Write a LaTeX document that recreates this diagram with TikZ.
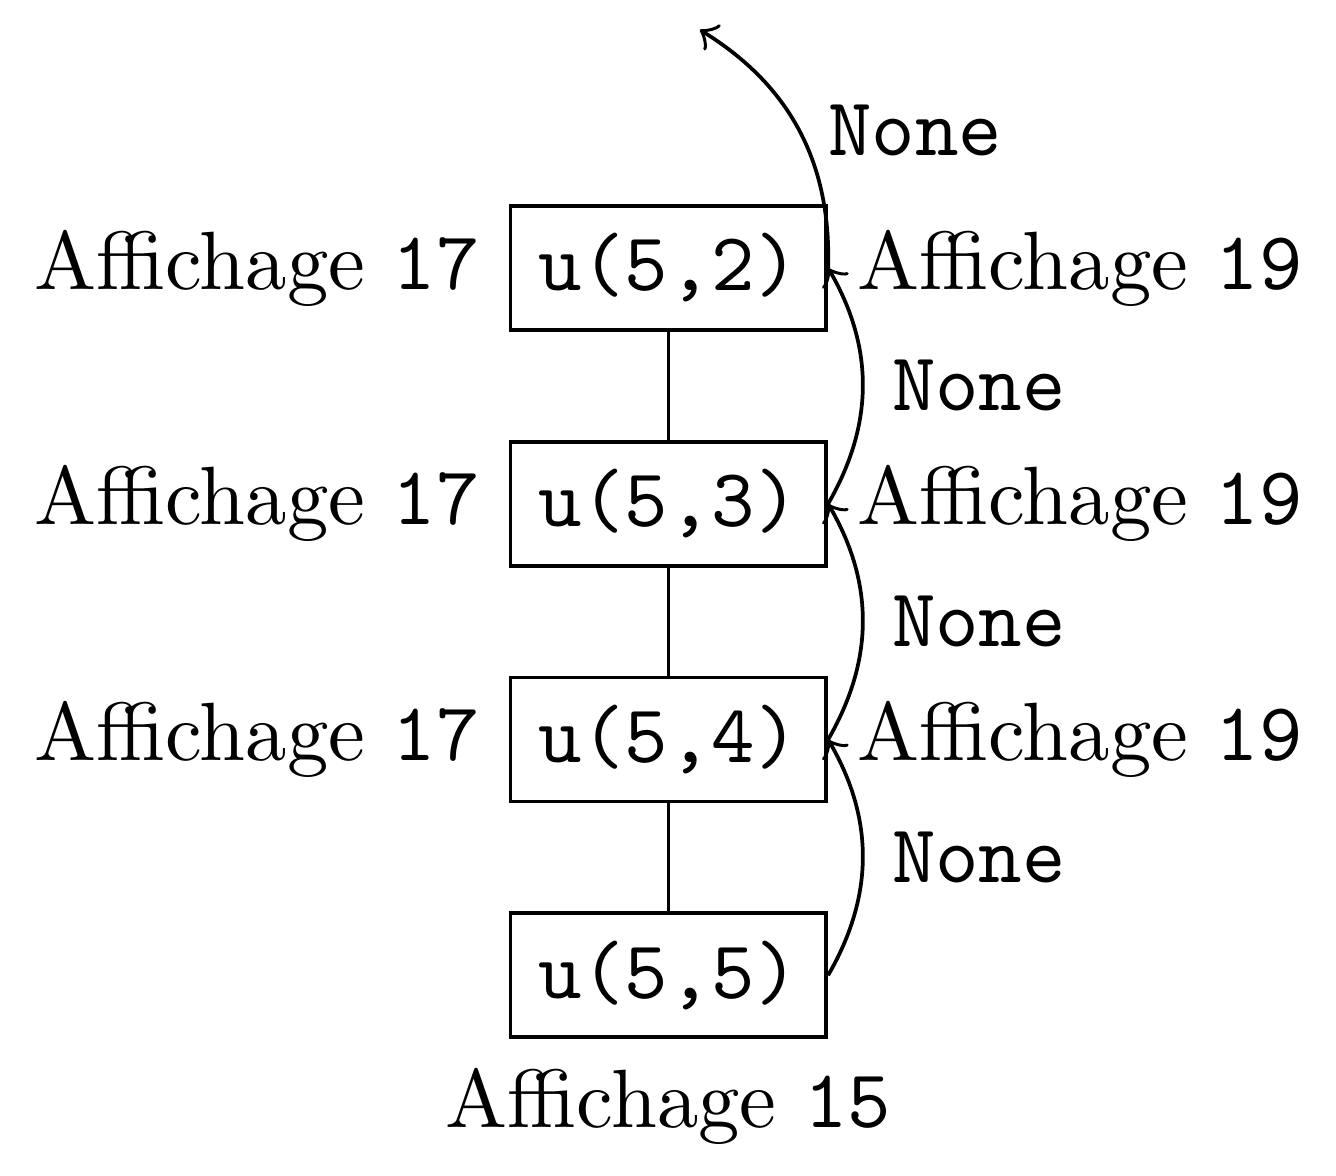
\documentclass[tikz,border=0pt]{standalone}
\begin{document}
\begin{tikzpicture}[x=1pt,y=1pt,
  box/.style={draw, line width=0.45pt},
  link/.style={line width=0.45pt},
  arc/.style={->, line width=0.45pt, bend right=30}]
\useasboundingbox (0,0) rectangle (161.5,-142.1);
\node[box, label={left:Affichage \texttt{17}}, label={right:Affichage \texttt{19}}] (a) at (80.8,-32.4) {\texttt{u(5,2)}};
\node[box, label={left:Affichage \texttt{17}}, label={right:Affichage \texttt{19}}] (b) at (80.8,-60.9) {\texttt{u(5,3)}};
\node[box, label={left:Affichage \texttt{17}}, label={right:Affichage \texttt{19}}] (c) at (80.8,-89.4) {\texttt{u(5,4)}};
\node[box, label={below:Affichage \texttt{15}}] (d) at (80.8,-117.9) {\texttt{u(5,5)}};
\coordinate (top) at (84.6,-3.6);
\draw[link] (a) -- (b);
\draw[link] (b) -- (c);
\draw[link] (c) -- (d);
\draw[arc] (d.east) to node[right] {\texttt{None}} (c.east);
\draw[arc] (c.east) to node[right] {\texttt{None}} (b.east);
\draw[arc] (b.east) to node[right] {\texttt{None}} (a.east);
\draw[arc] (a.east) to node[right] {\texttt{None}} (top);
\end{tikzpicture}
\end{document}
